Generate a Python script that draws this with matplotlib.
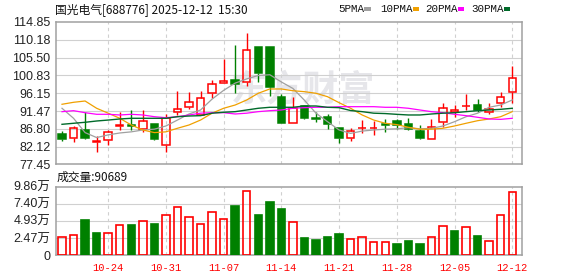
import numpy as np
import matplotlib.pyplot as plt
from matplotlib.patches import Rectangle

# 国光电气 688776 daily K-line, 2025-10-20 .. 2025-12-12
dates = ["10-20", "10-21", "10-22", "10-23", "10-24",
         "10-27", "10-28", "10-29", "10-30", "10-31",
         "11-03", "11-04", "11-05", "11-06", "11-07",
         "11-10", "11-11", "11-12", "11-13", "11-14",
         "11-17", "11-18", "11-19", "11-20", "11-21",
         "11-24", "11-25", "11-26", "11-27", "11-28",
         "12-01", "12-02", "12-03", "12-04", "12-05",
         "12-08", "12-09", "12-10", "12-11", "12-12"]

opens = [85.36, 84.31, 86.49, 83.26, 83.78, 87.62, 87.80, 86.67, 88.06, 82.47,
         91.14, 92.45, 90.43, 96.13, 98.75, 99.62, 99.01, 108.36, 108.36, 95.23,
         88.25, 92.79, 89.60, 89.82, 86.94, 84.31, 86.90, 86.90, 88.00, 88.85,
         88.15, 86.23, 84.05, 88.51, 91.20, 92.80, 93.05, 91.14, 93.50, 96.39]
highs = [86.23, 87.54, 91.14, 84.92, 86.49, 91.14, 91.74, 91.74, 88.10, 90.69,
         96.73, 96.47, 96.73, 99.62, 105.05, 108.81, 112.04, 108.36, 108.36, 95.94,
         95.08, 92.79, 91.30, 90.61, 87.00, 86.94, 89.10, 88.93, 89.28, 89.28,
         89.56, 87.80, 89.28, 93.58, 92.98, 95.94, 94.63, 93.50, 96.55, 103.30]
lows = [83.52, 83.42, 84.05, 80.63, 82.47, 86.49, 86.49, 86.05, 83.90, 80.79,
        90.43, 92.00, 90.43, 94.97, 98.75, 96.28, 98.12, 99.17, 95.42, 88.41,
        88.25, 89.38, 88.67, 86.67, 83.00, 83.52, 85.60, 85.17, 86.05, 86.67,
        86.49, 84.05, 84.05, 87.36, 89.98, 91.74, 91.30, 90.69, 92.61, 93.50]
closes = [84.20, 86.94, 84.31, 83.52, 85.88, 87.80, 87.62, 88.85, 84.05, 89.72,
          91.92, 93.76, 94.81, 98.49, 99.36, 98.57, 107.50, 101.38, 97.86, 88.41,
          92.35, 89.72, 89.40, 88.14, 84.31, 86.23, 87.00, 86.97, 87.85, 87.80,
          86.85, 84.48, 87.36, 92.19, 91.74, 92.90, 91.74, 92.00, 95.23, 100.07]

ma5 = [92.19, 89.56, 85.80, 84.50, 85.20, 85.70, 86.00, 86.49, 86.70, 87.54,
       89.10, 90.69, 91.74, 94.60, 96.90, 98.80, 99.90, 100.80, 101.00, 99.10,
       97.40, 94.30, 90.90, 88.67, 86.49, 85.60, 86.20, 86.49, 86.70, 86.80,
       87.10, 86.80, 86.90, 87.54, 88.67, 89.98, 90.90, 92.45, 93.05, 94.37]
ma10 = [93.24, 93.76, 94.10, 92.19, 90.90, 89.56, 87.80, 86.49, 85.80, 86.00,
        86.94, 87.80, 89.10, 90.90, 92.19, 93.05, 94.37, 96.13, 97.26, 97.26,
        96.80, 96.55, 96.13, 95.23, 93.66, 92.19, 90.43, 89.10, 88.25, 87.90,
        87.20, 86.67, 86.70, 86.94, 87.54, 88.25, 88.93, 89.38, 89.98, 91.30]
ma20 = [91.30, 91.56, 91.03, 90.61, 90.61, 90.43, 90.61, 90.43, 89.98, 89.72,
        89.98, 90.43, 90.90, 91.03, 91.03, 90.69, 90.90, 91.30, 91.56, 91.74,
        92.19, 92.35, 92.45, 92.45, 92.61, 92.61, 92.61, 92.61, 92.45, 92.45,
        92.19, 91.74, 91.30, 91.03, 90.61, 90.25, 89.82, 89.38, 89.28, 89.56]
ma30 = [87.98, 88.25, 88.51, 88.85, 89.10, 89.38, 89.56, 89.56, 89.56, 89.56,
        89.98, 90.16, 90.25, 90.90, 91.14, 91.30, 91.74, 92.19, 92.45, 92.45,
        92.45, 92.79, 92.79, 92.45, 92.35, 91.60, 91.30, 90.90, 90.80, 90.60,
        90.43, 90.43, 90.69, 90.90, 91.03, 91.30, 91.56, 91.74, 91.92, 92.19]

# volume in 万 shares, up = red (close above previous close)
volume = [2.55, 2.84, 5.05, 3.17, 3.13, 4.28, 4.33, 4.86, 4.47, 5.73,
          6.88, 5.44, 4.43, 6.16, 5.15, 7.07, 9.19, 5.77, 7.65, 6.64,
          4.72, 2.45, 2.21, 2.60, 3.03, 2.31, 2.55, 1.83, 1.83, 1.59,
          2.02, 1.59, 2.55, 4.14, 3.46, 4.00, 2.74, 1.98, 5.73, 9.0689]
vol_up = [1, 1, 0, 0, 1, 1, 0, 1, 0, 1,
          1, 1, 1, 1, 1, 0, 1, 0, 0, 0,
          1, 0, 0, 0, 0, 1, 1, 1, 1, 0,
          0, 0, 1, 1, 0, 1, 0, 1, 1, 1]

price_ticks = [77.45, 82.12, 86.80, 91.47, 96.15, 100.83, 105.50, 110.18, 114.85]
vol_ticks = [0, 2.465, 4.93, 7.395, 9.86]
vol_labels = ["0", "2.47万", "4.93万", "7.40万", "9.86万"]

RED = "#ff0000"
GREEN = "#008000"
GRID = "#d0d0d0"
FRAME = "#a0a0a0"

plt.rcParams["font.family"] = ["Liberation Sans", "Noto Sans CJK SC"]

fig = plt.figure(figsize=(5.78, 2.76), dpi=100)
W, H = 578, 276
def box(l, t, r, b):
    return [l / W, 1 - b / H, (r - l) / W, (b - t) / H]

ax = fig.add_axes(box(56, 22, 522.3, 164.4))
axv = fig.add_axes(box(56, 186.7, 522.3, 255))

x = np.arange(len(dates))
o, h, l, c = map(np.array, (opens, highs, lows, closes))
up = c >= o
cols = np.where(up, RED, GREEN)
top = np.maximum(o, c)
bot = np.minimum(o, c)
bw = 0.64

# wicks, split around the body so hollow candles stay hollow
ax.vlines(x, top, h, colors=cols, lw=1.0, zorder=3)
ax.vlines(x, l, bot, colors=cols, lw=1.0, zorder=3)
ax.bar(x, top - bot, bottom=bot, width=bw,
       facecolor=np.where(up, "none", GREEN), edgecolor=cols, lw=1.1, zorder=3)

ax.plot(x, ma5, color="#a0a0a0", lw=0.9, zorder=4)
ax.plot(x, ma10, color="#f0a000", lw=0.9, zorder=4)
ax.plot(x, ma20, color="#ff00ff", lw=0.9, zorder=4)
ax.plot(x, ma30, color="#006a2a", lw=1.0, zorder=4)

# watermark
ax.text(0.53, 0.52, "东方财富", transform=ax.transAxes, fontsize=26,
        fontweight="bold", color="#e6e6ea", ha="center", va="center",
        family=["Noto Sans CJK SC"], zorder=1)

vup = np.array(vol_up, dtype=bool)
vcols = np.where(vup, RED, GREEN)
axv.bar(x, volume, width=bw, facecolor=np.where(vup, "none", GREEN),
        edgecolor=vcols, lw=1.2, zorder=3)

fri = x[4::5]
for a in (ax, axv):
    a.set_xlim(-0.52, 39.87)
    for s in a.spines.values():
        s.set_color(FRAME)
        s.set_linewidth(1.1)
    a.tick_params(length=0, labelsize=9, colors="#222222", pad=4)
    for xv in fri:
        a.axvline(xv, color=GRID, lw=0.8, ls=(0, (3, 3)), zorder=1)

ax.set_ylim(77.45, 114.85)
ax.set_yticks(price_ticks)
ax.set_yticklabels([f"{v:.2f}" for v in price_ticks])
ax.set_xticks([])
for v in price_ticks[1:-1]:
    ax.axhline(v, color=GRID, lw=0.8, zorder=1)

axv.set_ylim(0, 9.86)
axv.set_yticks(vol_ticks)
axv.set_yticklabels(vol_labels)
for v in vol_ticks[1:-1]:
    axv.axhline(v, color=GRID, lw=0.8, zorder=1)
axv.set_xticks(fri)
axv.set_xticklabels([dates[i] for i in fri], family="Liberation Mono",
                    fontsize=7.5, color=RED)
axv.tick_params(axis="x", pad=6)

# header
fig.text(55 / W, 1 - 10 / H, "国光电气[688776] 2025-12-12  15:30", fontsize=8.5,
         va="center", ha="left", family=["Noto Sans CJK SC"], color="#111111")
fig.text(57 / W, 1 - 177 / H, "成交量:90689", fontsize=8.5, va="center",
         ha="left", family=["Noto Sans CJK SC"], color="#111111")

legend = [("5PMA", 338, "#a0a0a0"), ("10PMA", 380, "#f0a000"),
          ("20PMA", 425, "#ff00ff"), ("30PMA", 471, "#006a2a")]
for name, lx, col in legend:
    fig.text(lx / W, 1 - 9 / H, name, fontsize=7.8, va="center", ha="left",
             family="Liberation Mono", color="#111111")
    w = 6.2 * len(name)
    fig.add_artist(Rectangle(((lx + w + 1.5) / W, 1 - 10.5 / H), 6.5 / W, 3 / H,
                             transform=fig.transFigure, color=col, lw=0))

fig.savefig("out.png", dpi=100)
